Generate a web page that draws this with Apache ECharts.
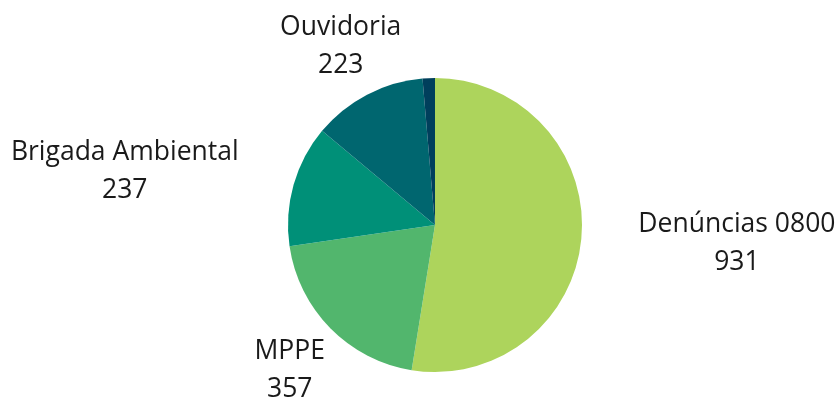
<!DOCTYPE html>
<html>
<head>
<meta charset="utf-8">
<style>
  html, body { margin: 0; padding: 0; background: #ffffff; }
  #chart { width: 839px; height: 398px; }
</style>
<script src="https://cdn.jsdelivr.net/npm/echarts@6/dist/echarts.min.js"></script>
</head>
<body>
<div id="chart"></div>
<script>
// Origem das denúncias
const categories = ['Denúncias 0800', 'MPPE', 'Brigada Ambiental', 'Ouvidoria', 'Outros'];
const values = [931, 357, 237, 223, 24];
const colors = ['#add45c', '#52b66d', '#009078', '#00666f', '#003f5c'];
// slices whose label sits centred on its radial anchor
const centredLabels = ['MPPE', 'Ouvidoria'];
const hiddenLabels = ['Outros'];

const chart = echarts.init(document.getElementById('chart'), null, { renderer: 'canvas' });

const data = categories.map((name, i) => ({
  name,
  value: values[i],
  itemStyle: { color: colors[i] },
  label: { show: !hiddenLabels.includes(name) }
}));

chart.setOption({
  animation: false,
  series: [{
    type: 'pie',
    center: [435, 225],
    radius: 147,
    startAngle: 90,
    clockwise: true,
    avoidLabelOverlap: false,
    data,
    itemStyle: { borderWidth: 0 },
    label: {
      position: 'outside',
      distanceToLabelLine: 0,
      formatter: '{t|{b}}\n{t|{c}}',
      rich: {
        t: {
          fontFamily: 'Open Sans',
          fontSize: 26.5,
          lineHeight: 38,
          color: '#1a1a1a',
          align: 'center'
        }
      }
    },
    labelLine: { show: false, length: 57, length2: 0 },
    labelLayout: function (p) {
      // left-side labels are right-aligned at the anchor; shift half a width to centre them
      if (centredLabels.includes(categories[p.dataIndex])) {
        return { dx: p.labelRect.width / 2, dy: 2 };
      }
      return { dy: 2 };
    }
  }]
});
</script>
</body>
</html>
